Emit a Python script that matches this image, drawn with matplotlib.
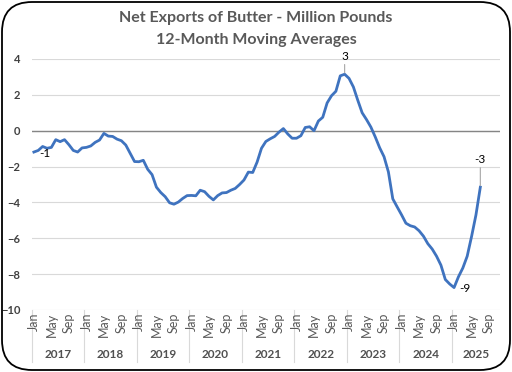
import matplotlib

matplotlib.use("Agg")
import matplotlib.pyplot as plt
from matplotlib.patches import FancyBboxPatch

plt.rcParams["font.family"] = ["Lato", "DejaVu Sans"]

title_lines = ["Net Exports of Butter - Million Pounds", "12-Month Moving Averages"]
years = [2017, 2018, 2019, 2020, 2021, 2022, 2023, 2024, 2025]
months_per_year = [12, 12, 12, 12, 12, 12, 12, 12, 11]
month_names = ["Jan", "Feb", "Mar", "Apr", "May", "Jun",
               "Jul", "Aug", "Sep", "Oct", "Nov", "Dec"]
shown_months = ["Jan", "May", "Sep"]

# monthly 12-month moving average, Jan 2017 .. Jul 2025
net_exports = [
    -1.19, -1.10, -0.88, -0.98, -0.93, -0.50, -0.61, -0.50, -0.78, -1.10, -1.19, -0.96,
    -0.93, -0.85, -0.65, -0.52, -0.15, -0.30, -0.32, -0.47, -0.56, -0.80, -1.26, -1.72,
    -1.73, -1.65, -2.15, -2.45, -3.15, -3.45, -3.68, -4.02, -4.10, -3.98, -3.78, -3.62,
    -3.61, -3.63, -3.32, -3.40, -3.66, -3.86, -3.62, -3.47, -3.45, -3.32, -3.22, -3.00,
    -2.75, -2.31, -2.33, -1.75, -0.98, -0.60, -0.45, -0.32, -0.08, 0.12, -0.18, -0.42,
    -0.42, -0.28, 0.18, 0.22, 0.00, 0.54, 0.75, 1.55, 1.95, 2.20, 3.06, 3.15,
    2.92, 2.44, 1.70, 1.00, 0.62, 0.20, -0.35, -0.95, -1.45, -2.30, -3.80, -4.25,
    -4.69, -5.16, -5.30, -5.37, -5.58, -5.88, -6.30, -6.60, -7.00, -7.50, -8.30, -8.55,
    -8.75, -8.15, -7.66, -7.00, -5.90, -4.70, -3.15,
]

line_color = "#3f73bf"
text_color = "#404040"
grid_color = "#d9d9d9"

fig = plt.figure(figsize=(5.12, 3.72), dpi=100)
ax = fig.add_axes([0.0619, 0.1667, 0.9147, 0.6747])

n_cat = sum(months_per_year)
x = list(range(len(net_exports)))
ax.plot(x, net_exports, color=line_color, lw=2.0, solid_joinstyle="round", zorder=3)

ax.set_xlim(-0.5, n_cat - 0.5)
ax.set_ylim(-10, 4)
ax.set_yticks(range(-10, 5, 2))
ax.tick_params(axis="y", length=0, pad=8, labelsize=8, labelcolor=text_color)
for lbl in ax.get_yticklabels():
    lbl.set_fontweight("bold")
ax.set_xticks([])
ax.grid(axis="y", color=grid_color, lw=0.8)
ax.axhline(0, color="#858585", lw=1.0, zorder=2)
for s in ax.spines.values():
    s.set_visible(False)

# category axis: months + years
xt = ax.get_xaxis_transform()
start = 0
for yr, n in zip(years, months_per_year):
    for k in range(n):
        if month_names[k] in shown_months:
            ax.text(start + k, -0.01, month_names[k], rotation=90, ha="center",
                    va="top", fontsize=9, color="#595959", transform=xt)
    ax.text(start + (n - 1) / 2, -0.178, str(yr), ha="center", va="center",
            fontsize=8.5, fontweight="bold", color="#505050", transform=xt)
    ax.plot([start - 0.5, start - 0.5], [0, -0.207], color=grid_color, lw=0.8,
            transform=xt, clip_on=False)
    start += n

# data labels
i_min = net_exports.index(min(net_exports))
i_max = net_exports.index(max(net_exports))
i_last = len(net_exports) - 1
for i in (0, i_min):
    ax.annotate(f"{round(net_exports[i]):d}", (i, net_exports[i]), xytext=(8, -1),
                textcoords="offset points", ha="center", va="center",
                fontsize=8.5, color="black")
for i, dy in ((i_max, 9), (i_last, 16)):
    ax.annotate(f"{round(net_exports[i]):d}", (i, net_exports[i]), xytext=(0, dy),
                textcoords="offset points", ha="center", va="bottom",
                fontsize=8.5, color="black",
                arrowprops=dict(arrowstyle="-", color="#a6a6a6", lw=0.8,
                                shrinkA=0, shrinkB=1))

fig.text(0.5, 1 - 18 / 372, title_lines[0], ha="center", va="center",
         fontsize=11.5, fontweight="bold", color="#595959")
fig.text(0.5, 1 - 40 / 372, title_lines[1], ha="center", va="center",
         fontsize=11.5, fontweight="bold", color="#595959")

frame = FancyBboxPatch((0.02, 0.02), 5.08, 3.68, boxstyle="round,pad=0,rounding_size=0.3",
                       transform=fig.dpi_scale_trans, fill=False, ec="black", lw=1.3)
fig.add_artist(frame)

fig.savefig("out.png", dpi=100)
plt.close(fig)
